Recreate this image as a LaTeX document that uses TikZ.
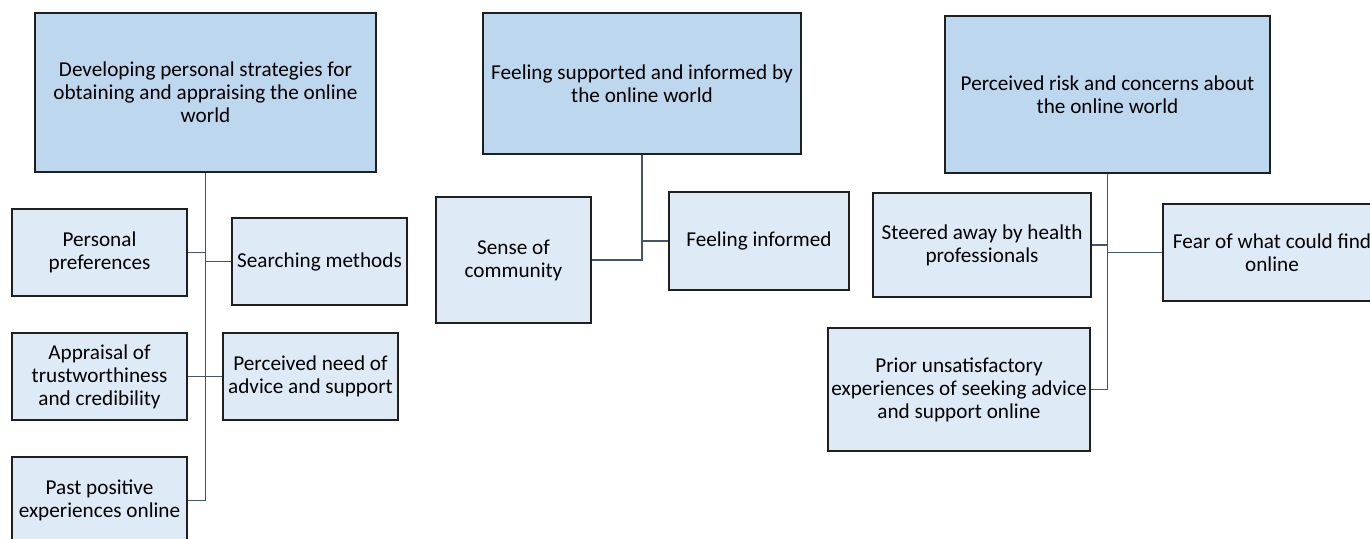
\documentclass[tikz,border=0pt]{standalone}
\usepackage{fontspec}
\setmainfont{Carlito}
\definecolor{themefill}{HTML}{BDD7EE}
\definecolor{subfill}{HTML}{DEEBF7}
\definecolor{edgeline}{HTML}{1F1F1F}
\definecolor{linkline}{HTML}{44546A}
\begin{document}
\begin{tikzpicture}[x=1pt, y=-1pt,
    themebox/.style={draw=edgeline, line width=1.9pt, fill=themefill, align=center,
      inner sep=0pt, font=\fontsize{21.2}{23}\selectfont},
    subbox/.style={draw=edgeline, line width=1.9pt, fill=subfill, align=center,
      inner sep=0pt, font=\fontsize{21.2}{23}\selectfont},
    link/.style={draw=linkline, line width=1.9pt}]
      \useasboundingbox (0,0) rectangle (1370,538);
      \clip (0,0) rectangle (1370,538);

      % first theme
      \node[themebox, minimum width=341pt, minimum height=159pt] (strat) at (205.5,92.5)
        {Developing personal strategies for\\obtaining and appraising the online\\world};
      \node[subbox, minimum width=175pt, minimum height=87pt] (pref) at (99.5,252.5)
        {Personal\\preferences};
      \node[subbox, minimum width=175pt, minimum height=87pt] (search) at (319.5,261.5)
        {Searching methods};
      \node[subbox, minimum width=175pt, minimum height=87pt] (apprais) at (99.5,376.5)
        {Appraisal of\\trustworthiness\\and credibility};
      \node[subbox, minimum width=175pt, minimum height=87pt] (need) at (310.5,376.5)
        {Perceived need of\\advice and support};
      \node[subbox, minimum width=175pt, minimum height=87pt] (past) at (99.5,500.5)
        {Past positive\\experiences online};

      % second theme
      \node[themebox, minimum width=318pt, minimum height=141pt] (support) at (642,83.5)
        {Feeling supported and informed by\\the online world};
      \node[subbox, minimum width=155pt, minimum height=126pt] (commun) at (513.5,260)
        {Sense of\\community};
      \node[subbox, minimum width=180pt, minimum height=98pt] (inform) at (759,241)
        {Feeling informed};

      % third theme
      \node[themebox, minimum width=325pt, minimum height=157pt] (risk) at (1107.5,94.5)
        {Perceived risk and concerns about\\the online world};
      \node[subbox, minimum width=218pt, minimum height=104pt] (steer) at (982,245)
        {Steered away by health\\professionals};
      \node[subbox, minimum width=218pt, minimum height=97pt] (fear) at (1272,252.5)
        {Fear of what could find\\online};
      \node[subbox, minimum width=262pt, minimum height=123pt] (prior) at (959,389.5)
        {Prior unsatisfactory\\experiences of seeking advice\\and support online};

      \path [link] (strat) |- (past);
      \path [link] (pref.east) -- (pref.east -| strat.south);
      \path [link] (search.west) -- (search.west -| strat.south);
      \path [link] (apprais.east) -- (apprais.east -| strat.south);
      \path [link] (need.west) -- (need.west -| strat.south);

      \path [link] (support) |- (commun);
      \path [link] (inform.west) -- (inform.west -| support.south);

      \path [link] (risk) |- (prior);
      \path [link] (steer.east) -- (steer.east -| risk.south);
      \path [link] (fear.west) -- (fear.west -| risk.south);
    \end{tikzpicture}
\end{document}
